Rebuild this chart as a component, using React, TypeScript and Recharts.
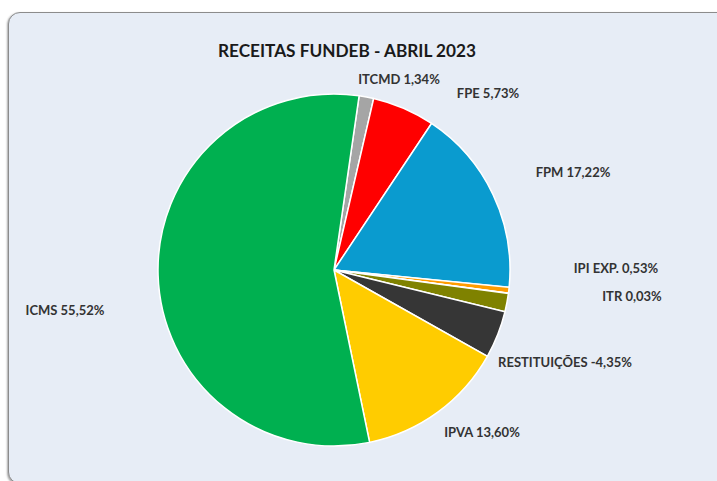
import { PieChart, Pie, Cell } from "recharts";

// receitas FUNDEB, abril 2023 (%)
const categories = ["ITCMD", "FPE", "FPM", "IPI EXP.", "ITR", "OUTROS", "RESTITUIÇÕES", "IPVA", "ICMS"];
const percents = [1.34, 5.73, 17.22, 0.53, 0.03, 1.68, -4.35, 13.6, 55.52];
const showLabel = [true, true, true, true, true, false, true, true, true];

const sliceColors = ["#a5a5a5", "#ff0000", "#0a9bcf", "#ff9c00", "#8a8a00", "#7f8200", "#363636", "#ffcc00", "#00b050"];

// label centers, offset from pie center (labels were dragged by hand in the original)
const labelOffsets: Record<string, [number, number]> = {
  ITCMD: [65, -191],
  FPE: [154, -177],
  FPM: [239, -98],
  "IPI EXP.": [282, -2],
  ITR: [298, 26],
  RESTITUIÇÕES: [231, 92],
  IPVA: [148, 162],
  ICMS: [-269, 40],
};

const fmt = (v: number) => v.toFixed(2).replace(".", ",") + "%";

const tableData = categories.map((name, i) => ({
  name,
  value: Math.abs(percents[i]),
  raw: percents[i],
  show: showLabel[i],
}));

const CX = 334;
const CY = 270;
const FONT = "Lato, 'Open Sans', sans-serif";

const renderLabel = (props: any) => {
  const { cx, cy, payload } = props;
  const item = payload?.payload ?? payload;
  if (!item?.show) return null;
  const off = labelOffsets[item.name];
  if (!off) return null;
  return (
    <text
      x={cx + off[0]}
      y={cy + off[1]}
      textAnchor="middle"
      dominantBaseline="central"
      fill="#333333"
      fontFamily={FONT}
      fontWeight={700}
      fontSize={13}
    >
      {`${item.name} ${fmt(item.raw)}`}
    </text>
  );
};

export default function App() {
  return (
    <div style={{ position: "fixed", left: 0, top: 0, width: 717, height: 481, background: "#ffffff", overflow: "hidden" }}>
      <div
        style={{
          position: "absolute",
          left: 8,
          top: 12,
          width: 740,
          height: 470,
          background: "#e7edf6",
          border: "1.5px solid #8c8c8c",
          borderRadius: 12,
          boxShadow: "-1px 1px 2px rgba(0,0,0,0.35)",
        }}
      />
      <div style={{ position: "absolute", left: 0, top: 0 }}>
        <PieChart width={717} height={481} margin={{ top: 0, right: 0, bottom: 0, left: 0 }}>
          <text
            x={347}
            y={51}
            textAnchor="middle"
            dominantBaseline="central"
            fontFamily={FONT}
            fontWeight={700}
            fontSize={16.5}
            fill="#1a1a1a"
            textLength={258}
            lengthAdjust="spacingAndGlyphs"
          >
            RECEITAS FUNDEB - ABRIL 2023
          </text>
          <Pie
            data={tableData}
            dataKey="value"
            nameKey="name"
            cx={CX}
            cy={CY}
            outerRadius={176}
            startAngle={81.8}
            endAngle={-278.2}
            stroke="#ffffff"
            strokeWidth={1.5}
            label={renderLabel}
            labelLine={false}
            isAnimationActive={false}
          >
            {tableData.map((d, i) => (
              <Cell key={d.name} fill={sliceColors[i]} />
            ))}
          </Pie>
        </PieChart>
      </div>
    </div>
  );
}
